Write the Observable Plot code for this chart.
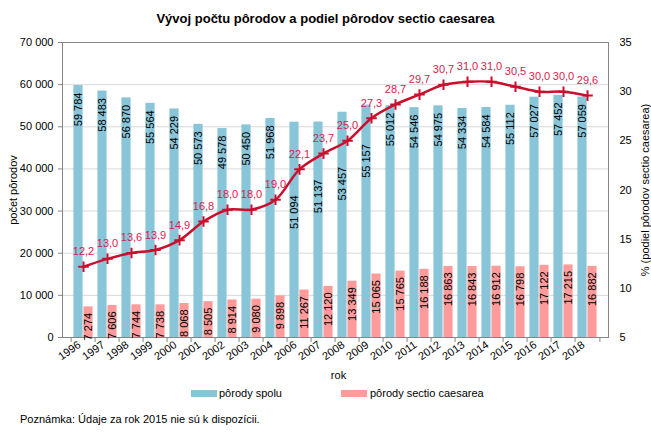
<!DOCTYPE html>
<html><head><meta charset="utf-8">
<script src="https://cdn.jsdelivr.net/npm/d3@7"></script>
<script src="https://cdn.jsdelivr.net/npm/@observablehq/plot@0.6"></script>
<style>
body{margin:0;background:#fff;font-family:"Liberation Sans",Arial,sans-serif;}
#wrap{position:relative;width:651px;height:433px;overflow:hidden;background:#fff;}
#wrap svg{position:absolute;left:0;top:0;font-family:"Liberation Sans",Arial,sans-serif;}
.t{position:absolute;white-space:nowrap;color:#000;font-size:11px;line-height:13px;}
.sw{position:absolute;width:26px;height:7px;}
</style></head><body><div id="wrap"></div>
<script>
const years = ["1996","1997","1998","1999","2000","2001","2002","2003","2004","2006","2007","2008","2009","2010","2011","2012","2013","2014","2015","2016","2017","2018"];
const births = [59784,58483,56870,55564,54229,50573,49578,50450,51968,51094,51137,53457,55157,55012,54546,54975,54334,54584,55112,57027,57452,57059];
const caesarea = [7274,7606,7744,7738,8068,8505,8914,9080,9898,11267,12120,13349,15065,15765,16188,16863,16843,16912,16798,17122,17215,16882];
const share = [12.2,13.0,13.6,13.9,14.9,16.8,18.0,18.0,19.0,22.1,23.7,25.0,27.3,28.7,29.7,30.7,31.0,31.0,30.5,30.0,30.0,29.6];
const leftTicks = [0,10000,20000,30000,40000,50000,60000,70000];
const rightTicks = [5,10,15,20,25,30,35];
const titleText = "Vývoj počtu pôrodov a podiel pôrodov sectio caesarea";
const seriesNames = ["pôrody spolu","pôrody sectio caesarea"];
const xTitle = "rok";
const yTitleLeft = "počet pôrodov";
const yTitleRight = "% (podiel pôrodov sectio caesarea)";
const noteText = "Poznámka: Údaje za rok 2015 nie sú k dispozícii.";

const W = 651, H = 433, mL = 62, mR = 43, mT = 42, mB = 96;
const BLUE = "#89c5d8", PINK = "#ff9b9b", LINE = "#c8102e", LBL = "#d81b4f", AX = "#868686";
const yMax = 70000, pMin = 5, pMax = 35;
const toY = p => (p - pMin) / (pMax - pMin) * yMax;
const fromY = v => v / yMax * (pMax - pMin) + pMin;
const fmt = v => d3.format(",")(v).replace(/,/g, " ");
const step = (W - mL - mR) / years.length;
const barW = 10;

const data = years.map((y, i) => {
  const v = births[i], py = toY(share[i]);
  const shift = py < v && py > v - 12000;
  return {year: y, births: v, caes: caesarea[i], share: share[i], py,
          labY: shift ? Math.min(v, py - 4500) : v};
});

const chart = Plot.plot({
  width: W, height: H, marginLeft: mL, marginRight: mR, marginTop: mT, marginBottom: mB,
  style: {fontFamily: "'Liberation Sans', Arial, sans-serif", fontSize: "11px", background: "transparent"},
  x: {type: "band", domain: years, padding: 0, axis: null},
  y: {domain: [0, yMax], axis: null},
  marks: [
    Plot.gridY(leftTicks, {stroke: "#d9d9d9", strokeOpacity: 1}),
    Plot.barY(data, {x: "year", y: "births", fill: BLUE, insetLeft: step/2 - barW, insetRight: step/2}),
    Plot.barY(data, {x: "year", y: "caes", fill: PINK, insetLeft: step/2, insetRight: step/2 - barW}),
    Plot.frame({stroke: AX}),
    Plot.ruleX(years, {x: d => d, dx: -step/2, y1: 0, y2: -5 * yMax / (H - mT - mB), stroke: AX}),
    Plot.ruleX([years[years.length-1]], {x: d => d, dx: step/2, y1: 0, y2: -5 * yMax / (H - mT - mB), stroke: AX}),
    Plot.axisY(leftTicks, {anchor: "left", tickSize: 4, tickPadding: 5, tickFormat: fmt, stroke: AX, fill: "#000", fontSize: 11, label: null}),
    Plot.axisY(rightTicks.map(toY), {anchor: "right", tickSize: 0, tickPadding: 11, tickFormat: v => String(Math.round(fromY(v))), fill: "#000", fontSize: 11, label: null}),
    Plot.axisX({tickSize: 0, tickPadding: 6, tickRotate: -35, dx: -4, fill: "#000", fontSize: 11, label: null}),
    Plot.text(data, {x: "year", y: "labY", text: d => fmt(d.births), rotate: -90, textAnchor: "end", dx: -5, dy: 7, fill: "#000", fontSize: 11}),
    Plot.text(data, {x: "year", y: "caes", text: d => fmt(d.caes), rotate: -90, textAnchor: "end", dx: 5, dy: 6, fill: "#000", fontSize: 11}),
    Plot.line(data, {x: "year", y: "py", stroke: LINE, strokeWidth: 2.5, curve: "catmull-rom"}),
    Plot.dot(data, {x: "year", y: "py", symbol: "plus", r: 3.5, stroke: LINE, strokeWidth: 2}),
    Plot.text(data, {x: "year", y: "py", text: d => d.share.toFixed(1).replace(".", ","), dy: -15, fill: LBL, fontSize: 11}),
    Plot.text([yTitleLeft], {frameAnchor: "left", text: d => d, rotate: -90, textAnchor: "middle", dx: -49, fill: "#000", fontSize: 11}),
    Plot.text([yTitleRight], {frameAnchor: "right", text: d => d, rotate: -90, textAnchor: "middle", dx: 37, fill: "#000", fontSize: 11}),
    Plot.text([xTitle], {frameAnchor: "bottom", text: d => d, textAnchor: "middle", dx: 3, dy: 41, fill: "#000", fontSize: 11})
  ]
});

const wrap = document.getElementById("wrap");
wrap.appendChild(chart);

function addDiv(cls, css, text) {
  const d = document.createElement("div");
  d.className = cls;
  Object.assign(d.style, css);
  if (text) d.textContent = text;
  wrap.appendChild(d);
}
addDiv("t", {left: "0px", width: W + "px", top: "11px", textAlign: "center", fontSize: "13px", fontWeight: "bold", lineHeight: "16px"}, titleText);
addDiv("sw", {left: "191px", top: "390px", background: BLUE});
addDiv("t", {left: "219px", top: "387px"}, seriesNames[0]);
addDiv("sw", {left: "341px", top: "390px", background: PINK});
addDiv("t", {left: "370px", top: "387px"}, seriesNames[1]);
addDiv("t", {left: "20px", top: "413px"}, noteText);
</script></body></html>
